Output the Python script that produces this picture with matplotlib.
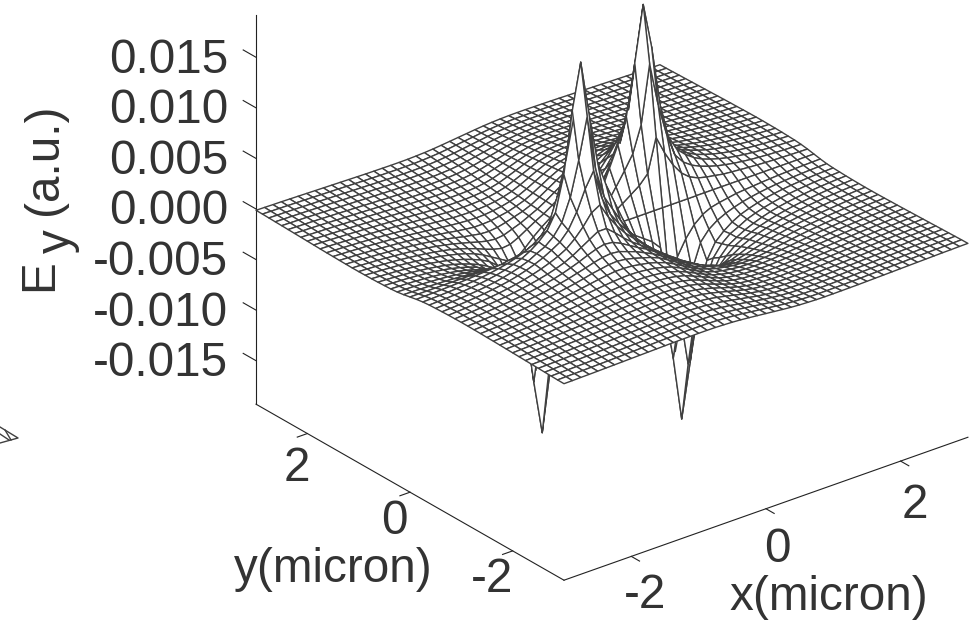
import numpy as np
import matplotlib
matplotlib.use('Agg')
import matplotlib.pyplot as plt
from mpl_toolkits.mplot3d import proj3d

plt.rcParams['font.family'] = ['Liberation Sans', 'DejaVu Sans']

# Ey, in units of 1e-4, for the quadrant x >= 0, y >= 0
# rows: y = 0 ... 3, columns: x = 0 ... 3, step 0.125
# the other three quadrants are the same with the sign flipped
quadrant = [
    [0] * 25,
    [0,6,12,18,24,33,66,48,33,22,15,11,9,7.5,6,5.2,4.5,3.8,3.2,2.7,2.3,2,1.7,1.5,1.3],
    [0,12,25,38,52,78,135,92,60,36,26,20,16,13,10.5,8.7,7.2,6,5,4.3,3.7,3.2,2.8,2.5,2.3],
    [0,20,40,60,85,135,190,145,85,50,35,27,21,16.5,13.5,11,9,7.5,6.3,5.3,4.6,4,3.5,3.2,2.9],
    [0,12,25,40,55,85,140,100,66,44,33,26,22,17.5,14.5,12,10,8.3,7,6,5.2,4.5,4,3.6,3.2],
    [0,9,19,29,41,60,90,75,55,40,31,26,21.5,18,15,12.5,10.5,9,7.7,6.6,5.7,5,4.4,3.9,3.5],
    [0,7,15,23,33,45,60,55,44,35,28,23.5,20,17,14.5,12.3,10.6,9.1,7.9,6.9,6,5.3,4.7,4.2,3.7],
    [0,6,12,18,25,33,40,40,35,30,25,21,18,15.5,13.5,11.7,10.2,8.9,7.8,6.9,6,5.4,4.8,4.3,3.8],
    [0,6,11.5,16,21,26,30,31,29,26,22.5,19.5,16.8,14.5,12.7,11.2,9.8,8.7,7.7,6.8,6,5.4,4.8,4.3,3.9],
    [0,5.5,10.5,14.5,18.5,21.5,24.5,25.5,24.5,22.5,20,17.8,15.5,13.7,12,10.6,9.4,8.4,7.5,6.7,6,5.3,4.8,4.3,3.9],
    [0,5.2,10,13.5,16,18.5,20.5,21.5,21,19.5,18,16,14.2,12.7,11.2,10,9,8.1,7.2,6.5,5.8,5.2,4.7,4.2,3.8],
    [0,4.8,9,12,14.5,16,17.5,18,18,17,15.8,14.4,13,11.7,10.5,9.4,8.5,7.6,6.9,6.2,5.6,5,4.5,4.1,3.7],
    [0,4.4,8.3,11,13,14.3,15.2,15.5,15.2,14.6,13.8,12.8,11.8,10.8,9.8,8.8,8,7.2,6.5,5.9,5.3,4.8,4.3,3.9,3.5],
    [0,4,7.6,10,11.8,12.8,13.4,13.6,13.4,13,12.3,11.5,10.7,9.9,9,8.2,7.5,6.8,6.1,5.6,5,4.6,4.1,3.7,3.4],
    [0,3.6,7,9.2,10.7,11.5,12,12.1,12,11.6,11,10.4,9.7,9,8.3,7.6,6.9,6.3,5.7,5.2,4.7,4.3,3.9,3.5,3.2],
    [0,3.3,6.3,8.4,9.7,10.4,10.8,10.9,10.8,10.4,10,9.4,8.8,8.2,7.6,7,6.4,5.9,5.3,4.9,4.4,4,3.6,3.3,3],
    [0,3,5.7,7.6,8.8,9.4,9.7,9.8,9.7,9.4,9,8.5,8,7.5,7,6.5,5.9,5.4,5,4.5,4.1,3.8,3.4,3.1,2.8],
    [0,2.6,5,6.8,8,8.5,8.8,8.9,8.7,8.5,8.1,7.7,7.3,6.8,6.4,5.9,5.5,5,4.6,4.2,3.8,3.5,3.2,2.9,2.6],
    [0,2.2,4.3,6,7,7.6,7.9,8,7.9,7.7,7.4,7,6.6,6.2,5.8,5.4,5,4.6,4.2,3.9,3.5,3.2,2.9,2.7,2.4],
    [0,1.9,3.7,5.2,6.2,6.8,7.1,7.2,7.1,6.9,6.7,6.3,6,5.6,5.3,4.9,4.5,4.2,3.8,3.5,3.2,2.9,2.7,2.4,2.2],
    [0,1.6,3.2,4.5,5.5,6,6.4,6.5,6.4,6.3,6,5.7,5.4,5.1,4.8,4.4,4.1,3.8,3.5,3.2,2.9,2.6,2.4,2.2,2],
    [0,1.4,2.8,3.9,4.8,5.4,5.7,5.8,5.8,5.6,5.4,5.2,4.9,4.6,4.3,4,3.7,3.4,3.1,2.9,2.6,2.4,2.2,2,1.8],
    [0,1.2,2.4,3.4,4.2,4.8,5.1,5.2,5.2,5.1,4.9,4.7,4.4,4.1,3.9,3.6,3.3,3.1,2.8,2.6,2.3,2.1,1.9,1.8,1.6],
    [0,1,2.1,3,3.7,4.2,4.5,4.6,4.6,4.5,4.4,4.2,4,3.7,3.5,3.2,3,2.8,2.5,2.3,2.1,1.9,1.7,1.6,1.4],
    [0,.9,1.8,2.6,3.2,3.6,3.9,4,4,3.9,3.8,3.7,3.5,3.3,3.1,2.9,2.7,2.5,2.3,2.1,1.9,1.7,1.6,1.4,1.3],
]
down_tip = -0.0198   # the two downward spikes reach a bit further
x_ticks = [-2, 0, 2]
y_ticks = [2, 0, -2]
z_ticks = [-0.015, -0.010, -0.005, 0.000, 0.005, 0.010, 0.015]
z_bottom, z_top = -0.0193, 0.0192

# corner of the neighbouring panel that sticks into the left edge
frag_lines_x = [[0, 18, 0], [0, 9], [5, 11]]
frag_lines_y = [[427, 438, 443], [434, 440], [430, 440]]

q = np.array(quadrant) * 1e-4
right = np.hstack([-q[:, :0:-1], q])
Z = np.vstack([-right[:0:-1], right])
Z[21, 30] = down_tip
Z[27, 18] = down_tip
xs = np.linspace(-3, 3, 49)
ys = np.linspace(-3, 3, 49)
X, Y = np.meshgrid(xs, ys)

W, H = 971, 621
fig = plt.figure(figsize=(W / 100, H / 100), dpi=100)
s = 760
ax = fig.add_axes([221.7 / W, 4.7 / H, s / W, s / H], projection='3d', proj_type='ortho')
ax.set_box_aspect((514, 498, 436), zoom=813.5 / s)
ax.view_init(elev=26.73, azim=-128.2)
ax.set_xlim(-3, 3, view_margin=0)
ax.set_ylim(-3, 3, view_margin=0)
ax.set_zlim(z_bottom, z_top, view_margin=0)
ax.set_axis_off()

ax.plot_surface(X, Y, Z, rstride=1, cstride=1, color='white', shade=False,
                edgecolor='#404040', linewidth=1.0, antialiased=True)

line_col = '#222222'
text_col = '#333333'
font_size = 34.3
ax.plot([-3, -3], [3, 3], [z_bottom, z_top], color=line_col, lw=0.8)
ax.plot([-3, 3], [-3, -3], [z_bottom, z_bottom], color=line_col, lw=0.8)
ax.plot([-3, -3], [-3, 3], [z_bottom, z_bottom], color=line_col, lw=0.8)

# tick marks point out of the box
for v in z_ticks:
    ax.plot([-3, -3], [3, 3.25], [v, v], color=line_col, lw=0.8)
for v in y_ticks:
    ax.plot([-3, -3.15], [v, v], [z_bottom, z_bottom], color=line_col, lw=0.8)
for v in x_ticks:
    ax.plot([v, v], [-3, -3.16], [z_bottom, z_bottom], color=line_col, lw=0.8)


def label_at(x, y, z, text, dx, dy, ha='center'):
    px, py, _ = proj3d.proj_transform(x, y, z, ax.get_proj())
    ax.annotate(text, xy=(px, py), xytext=(dx, dy), textcoords='offset pixels',
                ha=ha, va='center', fontsize=font_size, color=text_col)


for v in z_ticks:
    label_at(-3, 3, v, '%.3f' % v, -28, -3, ha='right')
for v, dx, dy in zip(y_ticks, [-10, -16, -21], [-35, -29, -29]):
    label_at(-3, v, z_bottom, str(v), dx, dy)
for v, dx, dy in zip(x_ticks, [14, 11, 14], [-39, -41, -44]):
    label_at(v, -3, z_bottom, str(v), dx, dy)

fig.text(333 / W, 1 - 570 / H, 'y(micron)', ha='center', va='center', fontsize=font_size, color=text_col)
fig.text(829 / W, 1 - 597 / H, 'x(micron)', ha='center', va='center', fontsize=font_size, color=text_col)
# E, y and (a.u.) are set apart, the y sits lower than the E at full size
fig.text(40 / W, 1 - 275.5 / H, 'E', rotation=90, ha='center', va='center', fontsize=font_size, color=text_col)
fig.text(57.5 / W, 1 - 241.5 / H, 'y', rotation=90, ha='center', va='center', fontsize=font_size, color=text_col)
fig.text(44.5 / W, 1 - 159 / H, '(a.u.)', rotation=90, ha='center', va='center', fontsize=font_size, color=text_col)

over = fig.add_axes([0, 0, 1, 1])
over.set_xlim(0, W)
over.set_ylim(H, 0)
over.axis('off')
for fx, fy in zip(frag_lines_x, frag_lines_y):
    over.plot(fx, fy, color='#404040', lw=1.0)

fig.savefig('out.png', dpi=100)
